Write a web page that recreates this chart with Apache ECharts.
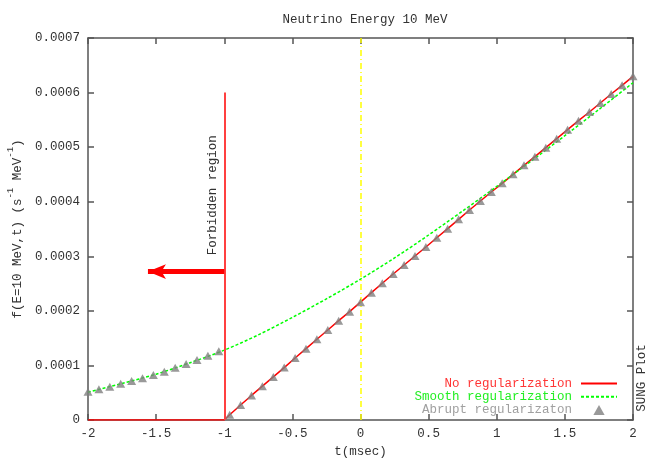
<!DOCTYPE html>
<html>
<head>
<meta charset="utf-8">
<script src="https://cdn.jsdelivr.net/npm/echarts@6/dist/echarts.min.js"></script>
<style>html,body{margin:0;padding:0;background:#fff;overflow:hidden}#c{width:654px;height:458px}</style>
</head>
<body>
<div id="c"></div>
<script>
// ---- data ----
var tLeft = [-2, -1.92, -1.84, -1.76, -1.68, -1.6, -1.52, -1.44, -1.36, -1.28, -1.2, -1.12, -1.04];
var abruptLeft = [5.19e-5, 5.62e-5, 6.11e-5, 6.66e-5, 7.15e-5, 7.64e-5, 8.25e-5, 8.86e-5, 9.59e-5, 1.026e-4, 1.1e-4, 1.179e-4, 1.258e-4];
var tRight = [-0.96, -0.88, -0.8, -0.72, -0.64, -0.56, -0.48, -0.4, -0.32, -0.24, -0.16, -0.08, 0,
  0.08, 0.16, 0.24, 0.32, 0.4, 0.48, 0.56, 0.64, 0.72, 0.8, 0.88, 0.96,
  1.04, 1.12, 1.2, 1.28, 1.36, 1.44, 1.52, 1.6, 1.68, 1.76, 1.84, 1.92, 2];
var noRegRight = [0.95e-5, 2.75e-5, 4.5e-5, 6.2e-5, 7.9e-5, 9.6e-5, 1.136e-4, 1.307e-4, 1.479e-4, 1.65e-4, 1.82e-4, 1.985e-4, 2.16e-4,
  2.333e-4, 2.505e-4, 2.675e-4, 2.84e-4, 3.005e-4, 3.17e-4, 3.34e-4, 3.506e-4, 3.677e-4, 3.848e-4, 4.013e-4, 4.178e-4,
  4.337e-4, 4.502e-4, 4.667e-4, 4.825e-4, 4.99e-4, 5.155e-4, 5.32e-4, 5.485e-4, 5.644e-4, 5.809e-4, 5.974e-4, 6.133e-4, 6.298e-4];
var tForbidden = [-2, -1];
var noRegForbidden = [0, 0];
var tSmooth = [-2, -1.75, -1.5, -1.25, -1, -0.75, -0.5, -0.25, 0, 0.25, 0.5, 0.75, 1, 1.25, 1.5, 1.75, 2];
var smoothVals = [5.1e-5, 6.7e-5, 8.4e-5, 1.05e-4, 1.28e-4, 1.56e-4, 1.88e-4, 2.22e-4, 2.58e-4, 2.97e-4, 3.39e-4, 3.83e-4, 4.28e-4, 4.74e-4, 5.21e-4, 5.69e-4, 6.18e-4];
var forbiddenT = -1, forbiddenTop = 6e-4;
var arrowY = 2.72e-4, arrowTipT = -1.56;
var xTicks = ['-2', '-1.5', '-1', '-0.5', '0', '0.5', '1', '1.5', '2'];
var yTicks = ['0', '0.0001', '0.0002', '0.0003', '0.0004', '0.0005', '0.0006', '0.0007'];

var FONT = 'Liberation Mono';
var AX = '#555555';
var TXT = '#333333';

function zip(a, b) { return a.map(function (v, i) { return [v, b[i]]; }); }
var redData = zip(tForbidden, noRegForbidden).concat(zip(tRight, noRegRight));
var triData = zip(tLeft, abruptLeft).concat(zip(tRight, noRegRight));
var greenData = zip(tSmooth, smoothVals);

var chart = echarts.init(document.getElementById('c'), null, { renderer: 'canvas', width: 654, height: 458 });

function axisCommon() {
  return {
    axisLine: { show: true, onZero: false, lineStyle: { color: AX, width: 1.5 } },
    axisTick: { show: true, inside: true, length: 6, lineStyle: { color: AX, width: 1.5 } },
    splitLine: { show: false }
  };
}
var hideIconStyle = { color: 'rgba(0,0,0,0)', borderWidth: 0, opacity: 0 };

var option = {
  animation: false,
  backgroundColor: '#ffffff',
  title: {
    text: 'Neutrino Energy 10 MeV',
    left: 360, top: 8, textAlign: 'center',
    textStyle: { fontFamily: FONT, fontSize: 12.5, fontWeight: 'normal', color: TXT }
  },
  grid: { left: 88, right: 21, top: 38, bottom: 38, containLabel: false, outerBoundsMode: 'none' },
  legend: {
    orient: 'vertical', right: 31, top: 372, align: 'right',
    itemWidth: 36, itemHeight: 10, itemGap: 0.3,
    textStyle: { fontFamily: FONT, fontSize: 12.5, lineHeight: 12, padding: [0, 4, 0, 0] },
    data: [
      { name: 'No regularization', itemStyle: hideIconStyle, textStyle: { color: '#ff3535' } },
      { name: 'Smooth regularization', itemStyle: hideIconStyle, textStyle: { color: '#22ee22' } },
      { name: 'Abrupt regularizaton', icon: 'path://M0,8L4.5,0L9,8Z', textStyle: { color: '#a0a0a0' } }
    ]
  },
  xAxis: [
    Object.assign({
      type: 'value', min: -2, max: 2, interval: 0.5, position: 'bottom',
      name: 't(msec)', nameLocation: 'middle', nameGap: 25,
      nameTextStyle: { fontFamily: FONT, fontSize: 12.5, color: TXT },
      axisLabel: { margin: 7, fontFamily: FONT, fontSize: 12.5, color: TXT,
        formatter: function (v) { return xTicks[Math.round((v + 2) / 0.5)]; } }
    }, axisCommon()),
    Object.assign({
      type: 'value', min: -2, max: 2, interval: 0.5, position: 'top',
      axisLabel: { show: false }
    }, axisCommon())
  ],
  yAxis: [
    Object.assign({
      type: 'value', min: 0, max: 0.0007, interval: 0.0001, position: 'left',
      name: '{a|f(E=10 MeV,t) (s}{s|-1}{a| MeV}{s|-1}{a|)}',
      nameLocation: 'middle', nameGap: 64,
      nameTextStyle: {
        rich: {
          a: { fontFamily: FONT, fontSize: 12.5, color: TXT, lineHeight: 18, verticalAlign: 'bottom' },
          s: { fontFamily: FONT, fontSize: 9, color: TXT, lineHeight: 9, verticalAlign: 'top' }
        }
      },
      axisLabel: { margin: 8, fontFamily: FONT, fontSize: 12.5, color: TXT,
        formatter: function (v) { return yTicks[Math.round(v / 0.0001)]; } }
    }, axisCommon()),
    Object.assign({
      type: 'value', min: 0, max: 0.0007, interval: 0.0001, position: 'right',
      axisLabel: { show: false }
    }, axisCommon())
  ],
  series: [
    {
      name: 'No regularization', type: 'line', data: redData, symbol: 'none',
      itemStyle: { color: '#ff0000' },
      lineStyle: { color: '#ff0000', width: 1.5 }, z: 3,
      markLine: {
        silent: true, animation: false, symbol: 'none', label: { show: false },
        data: [
          [{ coord: [forbiddenT, 0], lineStyle: { color: '#ff4040', width: 2, type: 'solid' } },
           { coord: [forbiddenT, forbiddenTop] }],
          [{ coord: [forbiddenT, arrowY], symbol: 'none', lineStyle: { color: '#ff0000', width: 5, type: 'solid' } },
           { coord: [arrowTipT, arrowY], symbol: 'arrow', symbolSize: [11, 18] }],
          [{ coord: [0, 0], lineStyle: { color: '#ffff00', width: 1.5, type: [6, 3, 1, 3] } },
           { coord: [0, 0.0007] }]
        ]
      }
    },
    {
      name: 'Smooth regularization', type: 'line', data: greenData, symbol: 'none', smooth: 0.3,
      itemStyle: { color: '#00ff00' },
      lineStyle: { color: '#00ff00', width: 1.5, type: [3, 2] }, z: 4
    },
    {
      name: 'Abrupt regularizaton', type: 'scatter', data: triData,
      symbol: 'triangle', symbolSize: [9, 8],
      itemStyle: { color: '#808080' }, z: 5
    }
  ]
};
chart.setOption(option);

var p = chart.convertToPixel({ gridIndex: 0 }, [forbiddenT, 4.12e-4]);
chart.setOption({
  graphic: [
    { type: 'text', x: p[0] - 12, y: p[1], rotation: Math.PI / 2, silent: true,
      style: { text: 'Forbidden region', font: '12.5px "' + FONT + '"', fill: TXT, textAlign: 'center', textVerticalAlign: 'middle' } },
    { type: 'text', x: 642, y: 378, rotation: Math.PI / 2, silent: true,
      style: { text: 'SUNG Plot', font: '12.5px "' + FONT + '"', fill: TXT, textAlign: 'center', textVerticalAlign: 'middle' } }
  ]
});
</script>
</body>
</html>
